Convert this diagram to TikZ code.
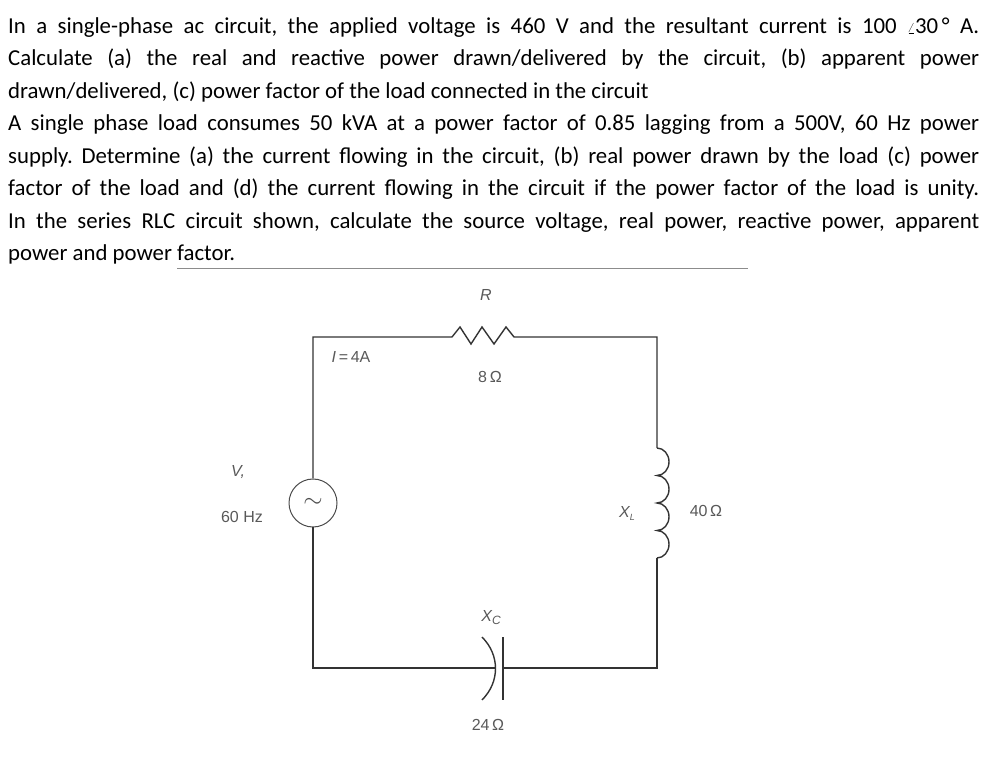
\documentclass[tikz,border=0pt]{standalone}
\usepackage{fontspec}
\setmainfont{Carlito}
\newfontfamily\lab{Liberation Sans}
\begin{document}
\frenchspacing
\begin{tikzpicture}[x=1pt,y=-1pt,
  wire/.style={line width=1.4pt,draw=black!80},
  lbl/.style={font=\lab\fontsize{16}{18}\selectfont,text=black!65,inner sep=0}]
\useasboundingbox (0,0) rectangle (994,775);
\node[anchor=north west,inner sep=0,text width=971pt,align=justify,font=\fontsize{22.8}{32.5}\selectfont] (txt) at (8,17) {%
In a single-phase ac circuit, the applied voltage is 460 V and the resultant current is 100 {\Large$\angle$}30\,° A.\linebreak
Calculate (a) the real and reactive power drawn/delivered by the circuit, (b) apparent power\linebreak
drawn/delivered, (c) power factor of the load connected in the circuit\par
A single phase load consumes 50 kVA at a power factor of 0.85 lagging from a 500V, 60 Hz power\linebreak
supply. Determine (a) the current flowing in the circuit, (b) real power drawn by the load (c) power\linebreak
factor of the load and (d) the current flowing in the circuit if the power factor of the load is unity.\linebreak
In the series RLC circuit shown, calculate the source voltage, real power, reactive power, apparent\linebreak
power and power factor.};
\coordinate (l1) at (177,268); \coordinate (l2) at (748,268);
\draw[black!45,line width=0.8pt] (l1) -- (l2);
\coordinate (tl) at (313,337); \coordinate (tr) at (657,337);
\coordinate (bl) at (313,668); \coordinate (br) at (657,668);
\node[circle,draw=black!70,line width=1pt,minimum size=48pt,inner sep=0] (src) at (313,503) {};
\node[text=black!70,inner sep=0,font=\fontsize{26}{26}\selectfont] at (src) {$\sim$};
\coordinate (ra) at (447,337); \coordinate (rb) at (524,337);
\coordinate (la) at (657,448); \coordinate (lb) at (657,558);
\coordinate (ca) at (495,668); \coordinate (cb) at (503,668);
\draw[wire] (src.north) -- (tl) -- (ra)
  -- (452,337) -- (460,327) -- (471,344) -- (482,327) -- (494,344) -- (506,327) -- (514,337) -- (rb)
  -- (tr) -- (la);
\draw[wire] (la) arc(90:-90:12pt and 13.75pt) arc(90:-90:12pt and 13.75pt) arc(90:-90:12pt and 13.75pt) arc(90:-90:12pt and 13.75pt);
\draw[wire] (lb) -- (br) -- (cb);
\draw[wire] (ca) -- (bl) -- (src.south);
\draw[wire] (503,637) -- (503,700);
\draw[wire] (482,637) .. controls (500,655) and (500,682) .. (482,700);
\node[lbl] at (486,295) {\itshape R};
\node[lbl] at (490,377) {8\,Ω};
\node[lbl] at (351,357) {\itshape I\upshape\,=\,4A};
\node[lbl] at (238,472) {\itshape V,};
\node[lbl] at (242,517) {60 Hz};
\node[lbl] at (627,513) {\itshape X\raisebox{-3pt}{\fontsize{9}{9}\selectfont L}};
\node[lbl] at (706,511) {40\,Ω};
\node[lbl] at (491,618) {\itshape X\raisebox{-3pt}{\fontsize{12}{12}\selectfont C}};
\node[lbl] at (488,725) {24\,Ω};
\end{tikzpicture}
\end{document}
